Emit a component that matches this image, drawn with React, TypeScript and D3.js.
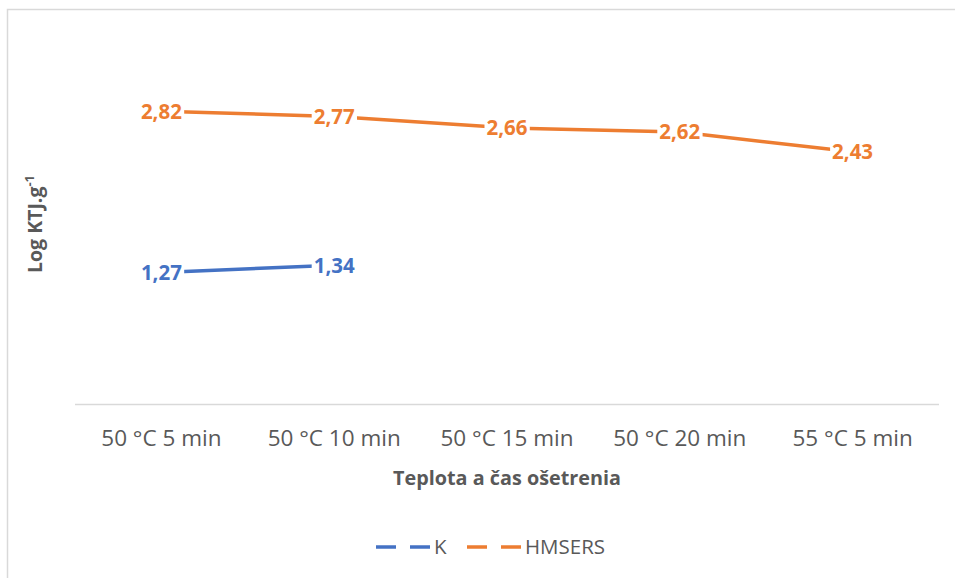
import React, { useEffect, useRef } from "react";
import * as d3 from "d3";

const categories = ["50 °C 5 min", "50 °C 10 min", "50 °C 15 min", "50 °C 20 min", "55 °C 5 min"];
const kValues: (number | null)[] = [1.27, 1.34, null, null, null];
const hmsersValues: (number | null)[] = [2.82, 2.77, 2.66, 2.62, 2.43];
const seriesNames = ["K", "HMSERS"];
const seriesColors = ["#4472C4", "#ED7D31"];
const xTitle = "Teplota a čas ošetrenia";
const yTitle = "Log KTJ.g";
const yTitleSup = "-1";

const W = 955;
const H = 578;
const FONT = "'Open Sans', sans-serif";

export default function App() {
  const ref = useRef<SVGSVGElement | null>(null);

  useEffect(() => {
    const svg = d3.select(ref.current);
    svg.selectAll("*").remove();

    const plot = { left: 75, right: 939, top: 40.5, bottom: 404.5 };

    const x = d3.scaleBand<string>().domain(categories).range([plot.left, plot.right]);
    const y = d3.scaleLinear().domain([0, 3.5]).range([plot.bottom, plot.top]);
    const cx = (c: string) => (x(c) as number) + x.bandwidth() / 2;

    // chart frame
    svg.append("rect")
      .attr("x", 7.5).attr("y", 9.5)
      .attr("width", W + 20).attr("height", H + 20)
      .attr("fill", "#fff").attr("stroke", "#D9D9D9").attr("stroke-width", 1.5);

    // category axis
    svg.append("line")
      .attr("x1", plot.left).attr("x2", plot.right)
      .attr("y1", y(0)).attr("y2", y(0))
      .attr("stroke", "#D9D9D9").attr("stroke-width", 1.5);

    svg.append("g").selectAll("text").data(categories).join("text")
      .attr("x", (d) => cx(d)).attr("y", 446)
      .attr("text-anchor", "middle")
      .attr("font-family", FONT).attr("font-size", 22.5).attr("fill", "#595959")
      .text((d) => d);

    // axis titles
    svg.append("text")
      .attr("x", (plot.left + plot.right) / 2).attr("y", 485)
      .attr("text-anchor", "middle")
      .attr("font-family", FONT).attr("font-size", 19.8).attr("font-weight", "bold").attr("fill", "#595959")
      .text(xTitle);

    const yt = svg.append("text")
      .attr("transform", `translate(42,224) rotate(-90)`)
      .attr("text-anchor", "middle")
      .attr("font-family", FONT).attr("font-size", 19.5).attr("font-weight", "bold").attr("fill", "#595959");
    yt.append("tspan").text(yTitle);
    yt.append("tspan").attr("dy", -8).attr("font-size", 13).text(yTitleSup);

    const allSeries = [kValues, hmsersValues];
    const line = d3.line<{ c: string; v: number | null }>()
      .defined((d) => d.v !== null)
      .x((d) => cx(d.c))
      .y((d) => y(d.v as number));

    allSeries.forEach((vals, i) => {
      const pts = categories.map((c, j) => ({ c, v: vals[j] }));
      svg.append("path")
        .datum(pts)
        .attr("d", line)
        .attr("fill", "none")
        .attr("stroke", seriesColors[i])
        .attr("stroke-width", 3.5)
        .attr("stroke-linejoin", "round");
    });

    // data labels centred on the points, with white backing
    allSeries.forEach((vals, i) => {
      categories.forEach((c, j) => {
        const v = vals[j];
        if (v === null) return;
        const g = svg.append("g");
        const t = g.append("text")
          .attr("x", cx(c)).attr("y", y(v))
          .attr("dy", "0.36em")
          .attr("text-anchor", "middle")
          .attr("font-family", FONT).attr("font-size", 20.5).attr("font-weight", "bold")
          .attr("fill", seriesColors[i])
          .text(d3.format(".2f")(v).replace(".", ","));
        const bb = (t.node() as SVGTextElement).getBBox();
        g.insert("rect", "text")
          .attr("x", bb.x - 2).attr("y", bb.y + 2)
          .attr("width", bb.width + 4).attr("height", bb.height - 4)
          .attr("fill", "#fff");
      });
    });

    // legend
    const legend = [
      { name: seriesNames[0], color: seriesColors[0], x0: 376 },
      { name: seriesNames[1], color: seriesColors[1], x0: 467 },
    ];
    legend.forEach((l) => {
      const ly = 547;
      [[0, 20], [34, 54]].forEach(([a, b]) => {
        svg.append("line")
          .attr("x1", l.x0 + a).attr("x2", l.x0 + b)
          .attr("y1", ly).attr("y2", ly)
          .attr("stroke", l.color).attr("stroke-width", 3.5);
      });
      svg.append("text")
        .attr("x", l.x0 + 58).attr("y", ly).attr("dy", "0.36em")
        .attr("font-family", FONT).attr("font-size", 20.5).attr("fill", "#595959")
        .text(l.name);
    });
  }, []);

  return (
    <div style={{ position: "absolute", left: 0, top: 0 }}>
      <svg ref={ref} width={W} height={H} style={{ display: "block" }} />
    </div>
  );
}
